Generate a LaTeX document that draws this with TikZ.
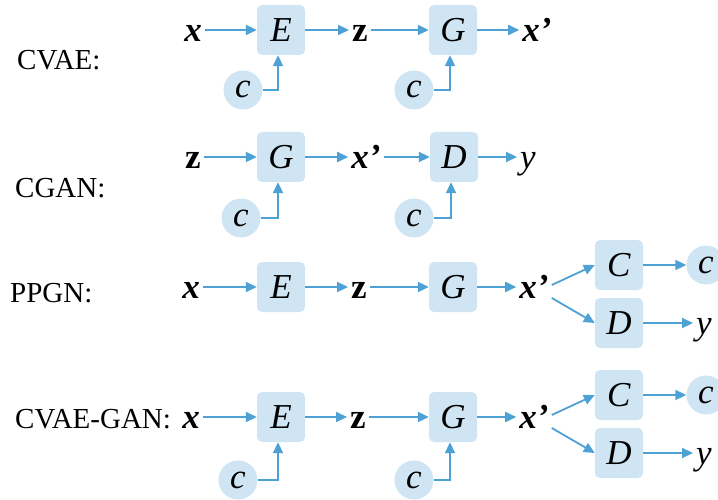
\documentclass[tikz,border=0pt]{standalone}
\usepackage{fontspec}
\setmainfont{Liberation Serif}
\usetikzlibrary{arrows.meta}
\definecolor{boxblue}{RGB}{207,229,243}
\definecolor{arrblue}{RGB}{78,161,213}

\begin{document}
\begin{tikzpicture}[x=1pt, y=-1pt,
  lab/.style={font=\fontsize{29}{34}\selectfont, inner sep=0pt, anchor=base west},
  vec/.style={font=\fontsize{35}{40}\selectfont, inner sep=3pt, text height=23pt, text depth=0pt},
  blk/.style={vec, fill=boxblue, rounded corners=5pt, minimum width=48pt, minimum height=50pt},
  cnd/.style={font=\fontsize{35}{40}\selectfont, circle, fill=boxblue, inner sep=0pt,
        minimum size=39pt, text height=16pt, text depth=0pt},
  arr/.style={draw=arrblue, line width=1.8pt, -{Triangle[length=11pt,width=10pt]}},
]
  \useasboundingbox (0,0) rectangle (718,500);
  % CVAE
  \node[lab] (l1) at (17,70) {CVAE:};
  \node[vec] (x1) at (193,30) {\textbf{\textit{x}}};
  \node[blk] (e1) at (281,30) {\textit{E}};
  \node[cnd] (c1) at (243,90) {\textit{c}};
  \node[vec] (z1) at (360,30) {\textbf{z}};
  \node[blk] (g1) at (453,30) {\textit{G}};
  \node[cnd] (c2) at (414,90) {\textit{c}};
  \node[vec] (xp1) at (537,30) {\textbf{\textit{x’}}};
  \draw[arr] (x1) -- (e1);
  \draw[arr] (e1) -- (z1);
  \draw[arr] (z1) -- (g1);
  \draw[arr] (g1) -- (xp1);
  \draw[arr] (c1.east) -| ([xshift=-3pt]e1.south);
  \draw[arr] (c2.east) -| ([xshift=-3pt]g1.south);
  % CGAN
  \node[lab] (l2) at (15,197) {CGAN:};
  \node[vec] (z2) at (193,157) {\textbf{z}};
  \node[blk] (g2) at (281,157) {\textit{G}};
  \node[cnd] (c3) at (241,218) {\textit{c}};
  \node[vec] (xp2) at (366,157) {\textbf{\textit{x’}}};
  \node[blk] (d2) at (454,157) {\textit{D}};
  \node[cnd] (c4) at (414,218) {\textit{c}};
  \node[vec] (y2) at (528,157) {\textit{y}};
  \draw[arr] (z2) -- (g2);
  \draw[arr] (g2) -- (xp2);
  \draw[arr] (xp2) -- (d2);
  \draw[arr] (d2) -- (y2);
  \draw[arr] (c3.east) -| ([xshift=-3pt]g2.south);
  \draw[arr] (c4.east) -| ([xshift=-3pt]d2.south);
  % PPGN
  \node[lab] (l3) at (10,302) {PPGN:};
  \node[vec] (x3) at (191,287) {\textbf{\textit{x}}};
  \node[blk] (e3) at (281,287) {\textit{E}};
  \node[vec] (z3) at (359,287) {\textbf{z}};
  \node[blk] (g3) at (453,287) {\textit{G}};
  \node[vec] (xp3) at (534,287) {\textbf{\textit{x’}}};
  \node[blk] (k3) at (619,265) {\textit{C}};
  \node[blk] (d3) at (619,323) {\textit{D}};
  \node[cnd] (c5) at (706,265) {\textit{c}};
  \node[vec] (y3) at (704,323) {\textit{y}};
  \draw[arr] (x3) -- (e3);
  \draw[arr] (e3) -- (z3);
  \draw[arr] (z3) -- (g3);
  \draw[arr] (g3) -- (xp3);
  \draw[arr] ([yshift=2pt]xp3.east) -- (k3.west);
  \draw[arr] ([yshift=-11pt]xp3.east) -- (d3.west);
  \draw[arr] (k3) -- (c5);
  \draw[arr] (d3) -- (y3);
  % CVAE-GAN
  \node[lab] (l4) at (15,428) {CVAE-GAN:};
  \node[vec] (x4) at (191,417) {\textbf{\textit{x}}};
  \node[blk] (e4) at (281,417) {\textit{E}};
  \node[cnd] (c6) at (238,480) {\textit{c}};
  \node[vec] (z4) at (358,417) {\textbf{z}};
  \node[blk] (g4) at (453,417) {\textit{G}};
  \node[cnd] (c7) at (414,480) {\textit{c}};
  \node[vec] (xp4) at (534,417) {\textbf{\textit{x’}}};
  \node[blk] (k4) at (619,395) {\textit{C}};
  \node[blk] (d4) at (619,453) {\textit{D}};
  \node[cnd] (c8) at (706,395) {\textit{c}};
  \node[vec] (y4) at (704,453) {\textit{y}};
  \draw[arr] (x4) -- (e4);
  \draw[arr] (e4) -- (z4);
  \draw[arr] (z4) -- (g4);
  \draw[arr] (g4) -- (xp4);
  \draw[arr] (c6.east) -| ([xshift=-3pt]e4.south);
  \draw[arr] (c7.east) -| ([xshift=-3pt]g4.south);
  \draw[arr] ([yshift=2pt]xp4.east) -- (k4.west);
  \draw[arr] ([yshift=-11pt]xp4.east) -- (d4.west);
  \draw[arr] (k4) -- (c8);
  \draw[arr] (d4) -- (y4);
\end{tikzpicture}
\end{document}
